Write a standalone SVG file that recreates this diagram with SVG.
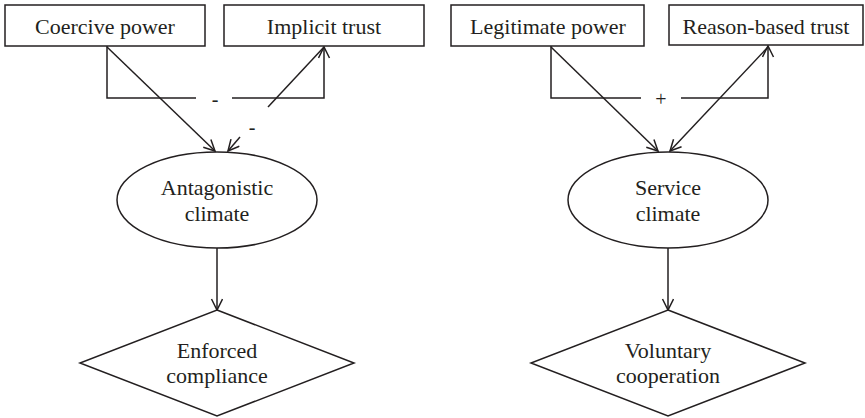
<svg xmlns="http://www.w3.org/2000/svg" width="865" height="418" viewBox="0 0 865 418">
<defs>
<marker id="arr" markerUnits="userSpaceOnUse" markerWidth="14" markerHeight="14" refX="12" refY="6" orient="auto">
<path d="M1,0.5 L12,6 L1,11.5" fill="none" stroke="#231f20" stroke-width="1.5"/>
</marker>
<style>
.s{fill:#fff;stroke:#231f20;stroke-width:1.5}
.t{font-family:"Liberation Serif","Times New Roman",serif;font-size:22px;fill:#231f20;text-anchor:middle}
.l{fill:none;stroke:#231f20;stroke-width:1.5}
.a{fill:none;stroke:#231f20;stroke-width:1.5;marker-end:url(#arr)}
</style>
</defs>
<rect width="865" height="418" fill="#fff"/>
<g id="connectors">
<polyline class="l" points="107,46 107,98 196,98"/>
<polyline class="a" points="232,98 324,98 324,47"/>
<line class="a" x1="107" y1="47" x2="215" y2="151"/>
<line class="l" x1="324" y1="47" x2="268" y2="107"/>
<line class="a" x1="240" y1="137" x2="228" y2="151"/>
<line class="a" x1="217" y1="248" x2="217" y2="310"/>
<polyline class="l" points="551,46 551,98 641,98"/>
<polyline class="a" points="681,98 768,98 768,46"/>
<line class="a" x1="551" y1="47" x2="658" y2="151"/>
<line class="a" x1="768" y1="47" x2="670" y2="151"/>
<line class="a" x1="668" y1="248" x2="668" y2="310"/>
<text class="t" x="215" y="106" style="font-size:20px">-</text>
<text class="t" x="252" y="134" style="font-size:20px">-</text>
<text class="t" x="661" y="106" style="font-size:20px">+</text>
</g>
<g id="coercive"><rect class="s" x="5" y="5" width="200" height="41"/><text class="t" x="105" y="34">Coercive power</text></g>
<g id="implicit"><rect class="s" x="224" y="5" width="200" height="41"/><text class="t" x="324" y="34">Implicit trust</text></g>
<g id="legitimate"><rect class="s" x="451" y="5" width="193" height="41"/><text class="t" x="548" y="34">Legitimate power</text></g>
<g id="reason"><rect class="s" x="669" y="5" width="194" height="40"/><text class="t" x="766" y="34">Reason-based trust</text></g>
<g id="antagonistic"><ellipse class="s" cx="217" cy="200" rx="100" ry="48"/><text class="t" x="217" y="195">Antagonistic</text><text class="t" x="217" y="221">climate</text></g>
<g id="service"><ellipse class="s" cx="668" cy="200" rx="100" ry="48"/><text class="t" x="668" y="195">Service</text><text class="t" x="668" y="221">climate</text></g>
<g id="enforced"><polygon class="s" points="217,310 354,363 217,416 80,363"/><text class="t" x="217" y="358">Enforced</text><text class="t" x="217" y="383">compliance</text></g>
<g id="voluntary"><polygon class="s" points="668,310 805,363 668,416 531,363"/><text class="t" x="668" y="358">Voluntary</text><text class="t" x="668" y="383">cooperation</text></g>
</svg>
